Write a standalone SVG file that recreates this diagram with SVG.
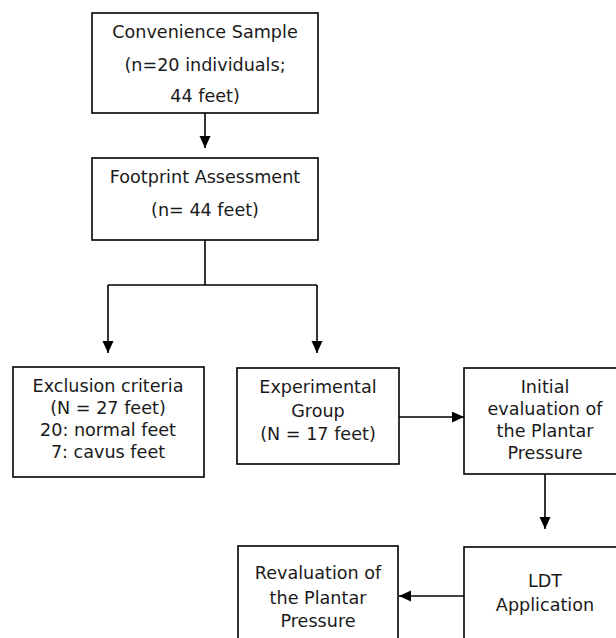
<svg xmlns="http://www.w3.org/2000/svg" width="616" height="638" viewBox="0 0 616 638">
<style>
.box{fill:#fff;stroke:#000;stroke-width:1.6}
.t{font-family:"DejaVu Sans",Verdana,sans-serif;font-size:17.6px;fill:#1a1a1a;text-anchor:middle}
.c{fill:none;stroke:#000;stroke-width:1.6}
</style>
<defs>
<marker id="ah" markerUnits="userSpaceOnUse" markerWidth="12" markerHeight="12" refX="12" refY="5.5" orient="auto">
<path d="M0,0 L12,5.5 L0,11 z" fill="#000"/>
</marker>
</defs>
<g id="convenience">
<rect class="box" x="92" y="13" width="226" height="100"/>
<text class="t" x="205" y="38">Convenience Sample</text>
<text class="t" x="205" y="71">(n=20 individuals;</text>
<text class="t" x="205" y="102">44 feet)</text>
</g>
<g id="footprint">
<rect class="box" x="92" y="158" width="226" height="82"/>
<text class="t" x="205" y="183">Footprint Assessment</text>
<text class="t" x="205" y="216">(n= 44 feet)</text>
</g>
<g id="exclusion">
<rect class="box" x="13" y="367" width="191" height="110"/>
<text class="t" x="108" y="392">Exclusion criteria</text>
<text class="t" x="108" y="414">(N = 27 feet)</text>
<text class="t" x="108" y="436">20: normal feet</text>
<text class="t" x="108" y="458">7: cavus feet</text>
</g>
<g id="experimental">
<rect class="box" x="237" y="368" width="162" height="96"/>
<text class="t" x="318" y="393">Experimental</text>
<text class="t" x="318" y="417">Group</text>
<text class="t" x="318" y="440">(N = 17 feet)</text>
</g>
<g id="initial">
<rect class="box" x="464" y="368" width="160" height="106"/>
<text class="t" x="545" y="393">Initial</text>
<text class="t" x="545" y="415">evaluation of</text>
<text class="t" x="545" y="437">the Plantar</text>
<text class="t" x="545" y="459">Pressure</text>
</g>
<g id="ldt">
<rect class="box" x="464" y="547" width="160" height="100"/>
<text class="t" x="545" y="587">LDT</text>
<text class="t" x="545" y="611">Application</text>
</g>
<g id="revaluation">
<rect class="box" x="238" y="546" width="160" height="100"/>
<text class="t" x="318" y="579">Revaluation of</text>
<text class="t" x="318" y="604">the Plantar</text>
<text class="t" x="318" y="627">Pressure</text>
</g>
<g id="connectors">
<line class="c" x1="205" y1="113" x2="205" y2="148" marker-end="url(#ah)"/>
<polyline class="c" points="205,240 205,285"/>
<polyline class="c" points="108,285 317,285"/>
<line class="c" x1="108" y1="285" x2="108" y2="353" marker-end="url(#ah)"/>
<line class="c" x1="317" y1="285" x2="317" y2="353" marker-end="url(#ah)"/>
<line class="c" x1="399" y1="417" x2="464" y2="417" marker-end="url(#ah)"/>
<line class="c" x1="545" y1="474" x2="545" y2="529" marker-end="url(#ah)"/>
<line class="c" x1="464" y1="596" x2="399" y2="596" marker-end="url(#ah)"/>
</g>
</svg>
